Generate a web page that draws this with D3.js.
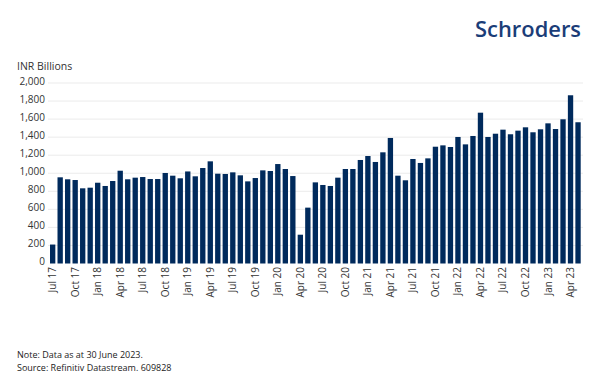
<!DOCTYPE html>
<html>
<head>
<meta charset="utf-8">
<script src="https://cdn.jsdelivr.net/npm/d3@7"></script>
<style>
  html, body { margin: 0; padding: 0; background: #fff; }
  svg { display: block; font-family: "Open Sans", sans-serif; }
</style>
</head>
<body>
<svg id="chart" width="600" height="383"></svg>
<script>
const months = [
  "Jul 17","Aug 17","Sep 17","Oct 17","Nov 17","Dec 17",
  "Jan 18","Feb 18","Mar 18","Apr 18","May 18","Jun 18","Jul 18","Aug 18","Sep 18","Oct 18","Nov 18","Dec 18",
  "Jan 19","Feb 19","Mar 19","Apr 19","May 19","Jun 19","Jul 19","Aug 19","Sep 19","Oct 19","Nov 19","Dec 19",
  "Jan 20","Feb 20","Mar 20","Apr 20","May 20","Jun 20","Jul 20","Aug 20","Sep 20","Oct 20","Nov 20","Dec 20",
  "Jan 21","Feb 21","Mar 21","Apr 21","May 21","Jun 21","Jul 21","Aug 21","Sep 21","Oct 21","Nov 21","Dec 21",
  "Jan 22","Feb 22","Mar 22","Apr 22","May 22","Jun 22","Jul 22","Aug 22","Sep 22","Oct 22","Nov 22","Dec 22",
  "Jan 23","Feb 23","Mar 23","Apr 23","May 23"
];
const values = [
  210, 955, 933, 925, 833, 840,
  895, 859, 914, 1028, 933, 951, 958, 936, 936, 1003, 973, 944,
  1020, 966, 1058, 1132, 995, 992, 1010, 977, 910, 947, 1032, 1025,
  1102, 1047, 969, 319, 619, 899, 870, 859, 951, 1047, 1047, 1147,
  1191, 1125, 1232, 1391, 973, 922, 1158, 1114, 1165, 1294, 1309, 1291,
  1402, 1320, 1413, 1671, 1402, 1438, 1483, 1432, 1472, 1509, 1454, 1487,
  1553, 1490, 1598, 1864, 1565
];
const xTickLabels = ["Jul 17","Oct 17","Jan 18","Apr 18","Jul 18","Oct 18","Jan 19","Apr 19","Jul 19","Oct 19","Jan 20","Apr 20","Jul 20","Oct 20","Jan 21","Apr 21","Jul 21","Oct 21","Jan 22","Apr 22","Jul 22","Oct 22","Jan 23","Apr 23"];
const yTicks = [0, 200, 400, 600, 800, 1000, 1200, 1400, 1600, 1800, 2000];
const yTitle = "INR Billions";
const notes = ["Note: Data as at 30 June 2023.", "Source: Refinitiv Datastream. 609828"];
const brand = "Schroders";

const svg = d3.select("#chart");
const barColor = "#002a5c";
const textColor = "#333333";

const x = d3.scaleBand().domain(months).range([50, 580.7]).paddingInner(0.29).paddingOuter(0);
const y = d3.scaleLinear().domain([0, 2000]).range([263.5, 83]);

// gridlines
svg.append("g").selectAll("line").data(yTicks.filter(d => d > 0)).join("line")
  .attr("x1", 48).attr("x2", 583)
  .attr("y1", d => y(d)).attr("y2", d => y(d))
  .attr("stroke", "#ebebeb").attr("stroke-width", 1);

// bars
svg.append("g").selectAll("rect").data(values).join("rect")
  .attr("x", (d, i) => x(months[i]))
  .attr("width", x.bandwidth())
  .attr("y", d => y(d))
  .attr("height", d => y(0) - y(d))
  .attr("fill", barColor);

// y axis
const yAxis = d3.axisLeft(y).tickValues(yTicks).tickFormat(d3.format(",")).tickSize(0).tickPadding(0);
const yg = svg.append("g").attr("transform", "translate(45,-2)").call(yAxis);
yg.select(".domain").remove();
yg.selectAll("text").attr("fill", textColor).style("font-size", "10px").style("font-family", "'Open Sans', sans-serif");

// x axis
const xAxis = d3.axisBottom(x).tickValues(xTickLabels).tickSize(0).tickPadding(0);
const xg = svg.append("g").attr("transform", "translate(0,267)").call(xAxis);
xg.select(".domain").remove();
xg.selectAll("text")
  .attr("fill", textColor)
  .style("font-size", "10px").style("font-family", "'Open Sans', sans-serif")
  .attr("transform", "rotate(-90)")
  .attr("text-anchor", "end")
  .attr("x", 0).attr("y", 0).attr("dx", 0).attr("dy", "0.35em");

// y title
svg.append("text").attr("x", 17).attr("y", 70).text(yTitle)
  .attr("fill", textColor).style("font-size", "10.5px");

// notes
svg.append("g").selectAll("text").data(notes).join("text")
  .attr("x", 17).attr("y", (d, i) => 358 + i * 12.5)
  .text(d => d).attr("fill", "#222").style("font-size", "9px");

// brand
svg.append("text").attr("x", 475).attr("y", 37).text(brand)
  .attr("fill", "#1b3d78").style("font-size", "22px").style("font-weight", "600")
  .style("font-family", "'Open Sans', sans-serif")
  .attr("textLength", 106).attr("lengthAdjust", "spacingAndGlyphs");
</script>
</body>
</html>
